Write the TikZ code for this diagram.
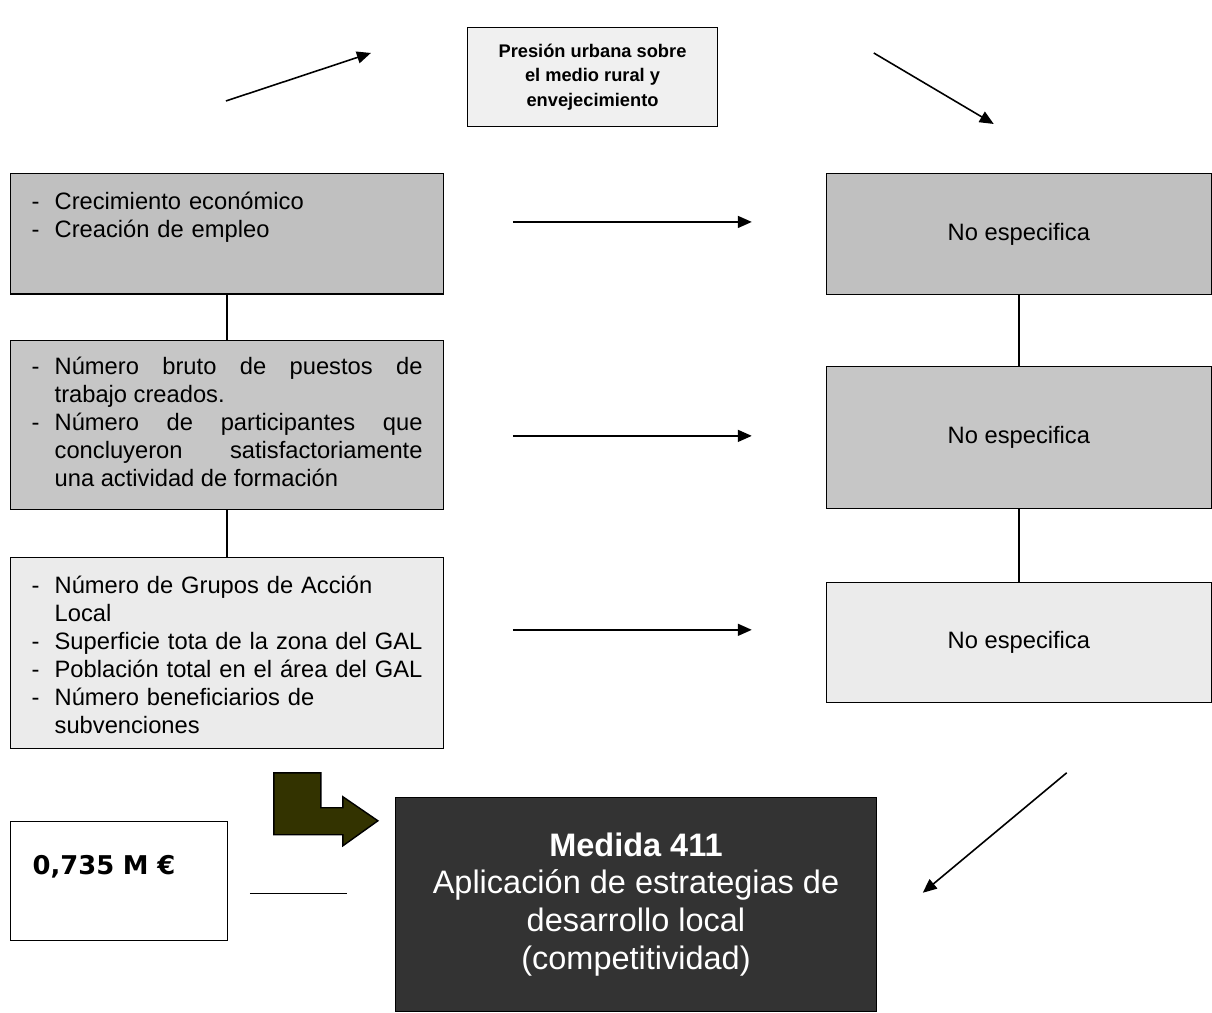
\documentclass[tikz,border=0pt]{standalone}
\usepackage{fontspec}
\setmainfont{Liberation Sans}
\newfontfamily\verdana{DejaVu Sans}
\usetikzlibrary{
  arrows.meta,
  positioning,
  calc
}
\definecolor{grisA}{HTML}{C0C0C0}
\definecolor{grisB}{HTML}{C6C6C6}
\definecolor{grisC}{HTML}{EBEBEB}
\definecolor{grisD}{HTML}{F0F0F0}
\definecolor{oscuro}{HTML}{333333}
\definecolor{oliva}{HTML}{333300}
\newcommand{\guion}[1]{\noindent\hangindent=0.46cm\hangafter=1\makebox[0.46cm][l]{-}#1\par}

\begin{document}
\begin{tikzpicture}[
      x=0.02cm, y=-0.02cm,
      caja/.style={draw, line width=0.8pt, anchor=north west, inner ysep=0pt, minimum width=8.66cm, text width=7.82cm, align=left, font=\fontsize{13.5}{15.9}\selectfont},
      cajader/.style={draw, line width=0.8pt, anchor=north west, minimum width=7.7cm, align=center, font=\fontsize{13.5}{15.9}\selectfont},
      flecha/.style={-{Triangle[length=0.28cm, width=0.24cm]}, line width=0.9pt},
      linea/.style={line width=0.8pt}
  ]
      \path[fill=white] (0,0) rectangle (1212,1011);

      % Presion
      \node[draw, line width=0.8pt, fill=grisD, anchor=north west, minimum width=5cm, minimum height=1.98cm, align=center, font=\bfseries\fontsize{10.4}{14.2}\selectfont] (presion) at (467,27) {Presión urbana sobre\\el medio rural y\\envejecimiento};

      % Columna izquierda
      \node[caja, fill=grisA, text height=0.72cm, text depth=1.69cm] (izq1) at (10,173) {%
          \guion{Crecimiento económico}
          \guion{Creación de empleo}%
      };
      \node[caja, fill=grisB, align=justify, text height=0.68cm, text depth=2.7cm] (izq2) at (10,340) {%
          \guion{Número bruto de puestos de\linebreak trabajo creados.}
          \guion{Número de participantes que\linebreak concluyeron satisfactoriamente\linebreak una actividad de formación}%
      };
      \node[caja, fill=grisC, text height=0.72cm, text depth=3.1cm] (izq3) at (10,557) {%
          \guion{Número de Grupos de Acción\newline Local}
          \guion{Superficie tota de la zona del GAL}
          \guion{Población total en el área del GAL}
          \guion{Número beneficiarios de\newline subvenciones}%
      };

      % Columna derecha
      \node[cajader, fill=grisA, minimum height=2.42cm] (der1) at (826,173) {No especifica};
      \node[cajader, fill=grisB, minimum height=2.84cm] (der2) at (826,366) {No especifica};
      \node[cajader, fill=grisC, minimum height=2.4cm] (der3) at (826,582) {No especifica};

      \draw[linea] (izq1.south) -- (izq2.north);
      \draw[linea] (izq2.south) -- (izq3.north);
      \draw[linea] (der1.south) -- (der2.north);
      \draw[linea] (der2.south) -- (der3.north);

      % Medida y presupuesto
      \node[draw, line width=0.8pt, fill=oscuro, text=white, anchor=north west, minimum width=9.62cm, minimum height=4.28cm, align=center, font=\fontsize{18.5}{21.5}\selectfont] (medida) at (395,797) {\textbf{Medida 411}\\Aplicación de estrategias de\\desarrollo local\\(competitividad)};
      \node[draw, line width=0.8pt, fill=white, anchor=north west, minimum width=4.34cm, inner ysep=0pt, inner xsep=0.44cm, text width=3.46cm, text height=1.06cm, text depth=1.32cm, align=left, font=\verdana\bfseries\fontsize{14.7}{17}\selectfont] (monto) at (10,821) {0,735 M €};

      \draw[line width=0.8pt, fill=oliva] (274,773) -- (321,773) -- (321,808) -- (343,808) -- (343,797) -- (378,821) -- (343,846) -- (343,835) -- (274,835) -- cycle;

      % Flechas
      \coordinate (p1) at (226,101);
      \coordinate (p2) at (371,53);
      \coordinate (p3) at (874,53);
      \coordinate (p4) at (994,124);
      \coordinate (p5) at (1067,773);
      \coordinate (p6) at (923,893);
      \coordinate (h1) at (513,222);
      \coordinate (h2) at (752,222);
      \coordinate (h3) at (513,436);
      \coordinate (h4) at (752,436);
      \coordinate (h5) at (513,630);
      \coordinate (h6) at (752,630);
      \coordinate (m1) at (250,894);
      \coordinate (m2) at (347,894);

      \draw[flecha] (p1) -- (p2);
      \draw[flecha] (p3) -- (p4);
      \draw[flecha] (p5) -- (p6);
      \draw[flecha] (h1) -- (h2);
      \draw[flecha] (h3) -- (h4);
      \draw[flecha] (h5) -- (h6);
      \draw[linea] (m1) -- (m2);

  \end{tikzpicture}
\end{document}
